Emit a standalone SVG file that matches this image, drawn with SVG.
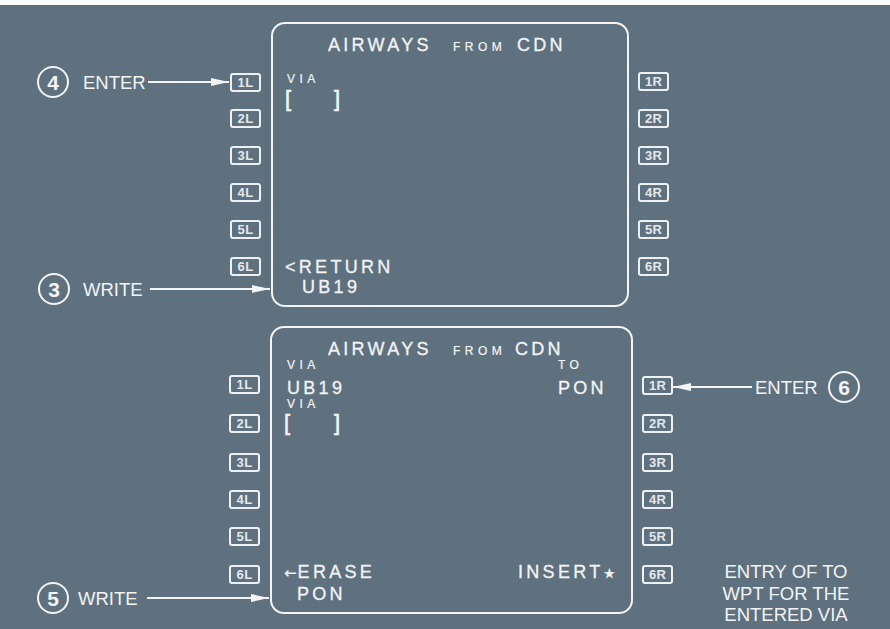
<svg xmlns="http://www.w3.org/2000/svg" width="890" height="629" viewBox="0 0 890 629">
<defs>
<style>
.bg{fill:#5f717f}
.scr{fill:none;stroke:#f2f4f5;stroke-width:2}
.key rect{fill:none;stroke:#eef1f3;stroke-width:2}
.key text{font-family:"Liberation Sans",Arial,sans-serif;font-size:13px;font-weight:bold;fill:#e4e8eb;text-anchor:middle;letter-spacing:0.3px}
.big{font-family:"Liberation Sans",Arial,sans-serif;font-size:18px;fill:#f2f4f5;letter-spacing:3.3px;stroke:#f2f4f5;stroke-width:0.3}
.sm{font-family:"Liberation Sans",Arial,sans-serif;font-size:12px;fill:#f2f4f5;letter-spacing:4.5px;stroke:#f2f4f5;stroke-width:0.2}
.brk{font-family:"Liberation Sans",Arial,sans-serif;font-size:22px;fill:#f2f4f5;stroke:#f2f4f5;stroke-width:0.6}
.lbl{font-family:"Liberation Sans",Arial,sans-serif;font-size:18.5px;fill:#f2f4f5}
.num{font-family:"Liberation Sans",Arial,sans-serif;font-size:21px;font-weight:bold;fill:#f2f4f5;text-anchor:middle}
.circ{fill:none;stroke:#f2f4f5;stroke-width:2}
.conn line{stroke:#f2f4f5;stroke-width:2}
</style>
<marker id="ah" viewBox="0 0 18 8" refX="18" refY="4" markerWidth="18" markerHeight="8" markerUnits="userSpaceOnUse" orient="auto">
<path d="M0,0 L18,4 L0,8 Z" fill="#f2f4f5"/>
</marker>
</defs>
<rect class="bg" x="0" y="0" width="890" height="629"/>
<rect x="0" y="0" width="890" height="5" fill="#ffffff"/>

<g id="screen-top">
<rect class="scr" x="272" y="23" width="356" height="283" rx="13"/>
<text class="big" x="328" y="51">AIRWAYS</text>
<text class="sm" x="453" y="51">FROM</text>
<text class="big" x="517" y="51">CDN</text>
<text class="sm" x="287" y="83">VIA</text>
<text class="brk" x="285" y="106">[</text>
<text class="brk" x="334" y="106">]</text>
<text class="big" x="285" y="273">&lt;RETURN</text>
<text class="big" x="302" y="293">UB19</text>
</g>

<g id="keys-top-left" class="key">
<rect x="231" y="74" width="29" height="17" rx="2"/><text x="245.5" y="87">1L</text>
<rect x="231" y="110" width="29" height="17" rx="2"/><text x="245.5" y="123">2L</text>
<rect x="231" y="147" width="29" height="17" rx="2"/><text x="245.5" y="160">3L</text>
<rect x="231" y="184" width="29" height="17" rx="2"/><text x="245.5" y="197">4L</text>
<rect x="231" y="221" width="29" height="17" rx="2"/><text x="245.5" y="234">5L</text>
<rect x="231" y="258" width="29" height="17" rx="2"/><text x="245.5" y="271">6L</text>
</g>
<g id="keys-top-right" class="key">
<rect x="639" y="73" width="29" height="17" rx="2"/><text x="653.5" y="86">1R</text>
<rect x="639" y="110" width="29" height="17" rx="2"/><text x="653.5" y="123">2R</text>
<rect x="639" y="147" width="29" height="17" rx="2"/><text x="653.5" y="160">3R</text>
<rect x="639" y="184" width="29" height="17" rx="2"/><text x="653.5" y="197">4R</text>
<rect x="639" y="221" width="29" height="17" rx="2"/><text x="653.5" y="234">5R</text>
<rect x="639" y="258" width="29" height="17" rx="2"/><text x="653.5" y="271">6R</text>
</g>

<g id="screen-bottom">
<rect class="scr" x="271" y="327" width="361" height="286" rx="13"/>
<text class="big" x="328" y="355">AIRWAYS</text>
<text class="sm" x="453" y="355">FROM</text>
<text class="big" x="515" y="355">CDN</text>
<text class="sm" x="287" y="369">VIA</text>
<text class="big" x="287" y="394">UB19</text>
<text class="sm" x="287" y="408">VIA</text>
<text class="brk" x="284" y="430">[</text>
<text class="brk" x="334" y="430">]</text>
<text class="sm" x="558" y="369">TO</text>
<text class="big" x="558" y="394">PON</text>
<text class="big" x="284" y="578"><tspan font-family="DejaVu Sans,sans-serif" font-size="15px" letter-spacing="1px">←</tspan>ERASE</text>
<text class="big" x="297" y="600">PON</text>
<text class="big" x="518" y="578">INSERT<tspan font-family="DejaVu Sans,sans-serif" font-size="13px">★</tspan></text>
</g>

<g id="keys-bottom-left" class="key">
<rect x="230" y="376" width="29" height="17" rx="2"/><text x="244.5" y="389">1L</text>
<rect x="230" y="415" width="29" height="17" rx="2"/><text x="244.5" y="428">2L</text>
<rect x="230" y="454" width="29" height="17" rx="2"/><text x="244.5" y="467">3L</text>
<rect x="230" y="491" width="29" height="17" rx="2"/><text x="244.5" y="504">4L</text>
<rect x="230" y="528" width="29" height="17" rx="2"/><text x="244.5" y="541">5L</text>
<rect x="230" y="566" width="29" height="17" rx="2"/><text x="244.5" y="579">6L</text>
</g>
<g id="keys-bottom-right" class="key">
<rect x="643" y="377" width="29" height="17" rx="2"/><text x="657.5" y="390">1R</text>
<rect x="643" y="415" width="29" height="17" rx="2"/><text x="657.5" y="428">2R</text>
<rect x="643" y="454" width="29" height="17" rx="2"/><text x="657.5" y="467">3R</text>
<rect x="643" y="491" width="29" height="17" rx="2"/><text x="657.5" y="504">4R</text>
<rect x="643" y="528" width="29" height="17" rx="2"/><text x="657.5" y="541">5R</text>
<rect x="643" y="566" width="29" height="17" rx="2"/><text x="657.5" y="579">6R</text>
</g>

<g id="step4">
<circle class="circ" cx="53" cy="82" r="15"/>
<text class="num" x="53" y="89.5">4</text>
<text class="lbl" x="83" y="89">ENTER</text>
</g>
<g id="step3">
<circle class="circ" cx="54" cy="289" r="15"/>
<text class="num" x="54" y="296.5">3</text>
<text class="lbl" x="83" y="296">WRITE</text>
</g>
<g id="step5">
<circle class="circ" cx="53" cy="598" r="15"/>
<text class="num" x="53" y="605.5">5</text>
<text class="lbl" x="78" y="605">WRITE</text>
</g>
<g id="step6">
<circle class="circ" cx="844" cy="387" r="15"/>
<text class="num" x="844" y="394.5">6</text>
<text class="lbl" x="755" y="394">ENTER</text>
</g>
<g id="note">
<text class="lbl" text-anchor="middle" x="786" y="578">ENTRY OF TO</text>
<text class="lbl" text-anchor="middle" x="786" y="600">WPT FOR THE</text>
<text class="lbl" text-anchor="middle" x="786" y="621">ENTERED VIA</text>
</g>

<g id="connectors" class="conn">
<line x1="148" y1="82" x2="229" y2="82" marker-end="url(#ah)"/>
<line x1="150" y1="289" x2="270" y2="289" marker-end="url(#ah)"/>
<line x1="147" y1="598" x2="269" y2="598" marker-end="url(#ah)"/>
<line x1="752" y1="387" x2="673" y2="387" marker-end="url(#ah)"/>
</g>
</svg>
